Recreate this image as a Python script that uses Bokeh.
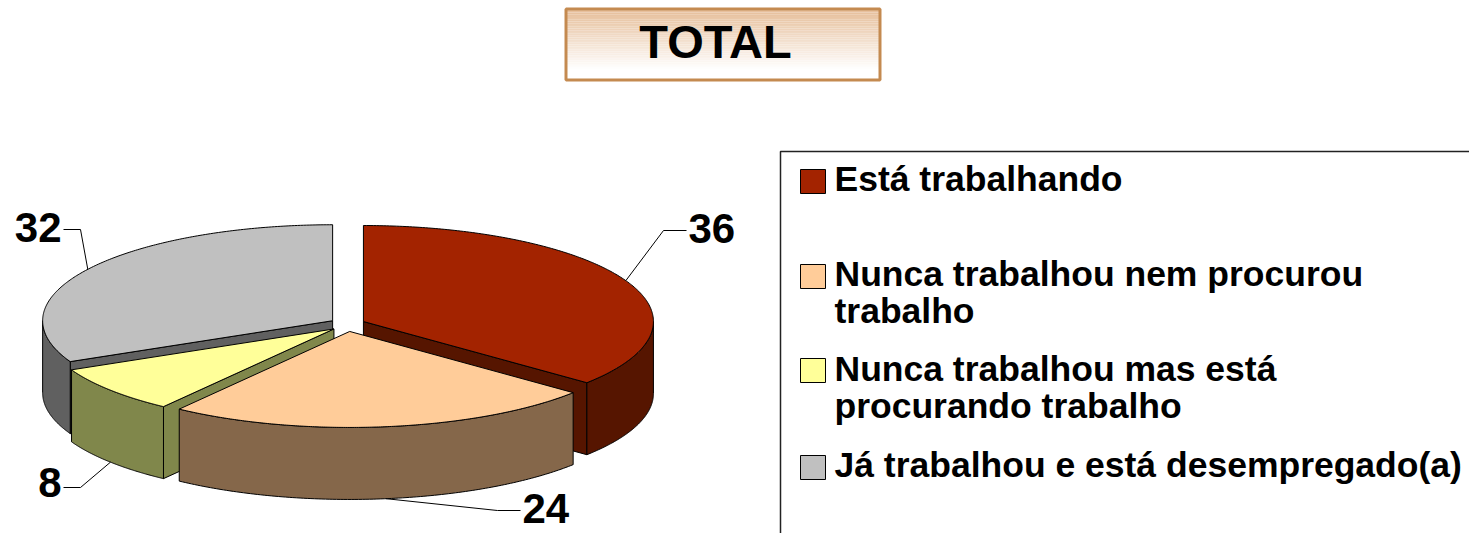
import numpy as np
from bokeh.plotting import figure
from bokeh.models import Range1d
from bokeh.core.properties import value
from bokeh.embed import file_html
from bokeh.resources import INLINE

# ---------------- data ----------------
title_text = "TOTAL"
categories = [
    "Está trabalhando",
    "Nunca trabalhou nem procurou trabalho",
    "Nunca trabalhou mas está procurando trabalho",
    "Já trabalhou e está desempregado(a)",
]
legend_lines = [
    ["Está trabalhando"],
    ["Nunca trabalhou nem procurou", "trabalho"],
    ["Nunca trabalhou mas está", "procurando trabalho"],
    ["Já trabalhou e está desempregado(a)"],
]
values = [36, 24, 8, 32]
top_colors = ["#A32300", "#FFCC99", "#FFFF99", "#C0C0C0"]
side_colors = ["#561500", "#85674A", "#80874B", "#606060"]

# ---------------- layout ----------------
W, H = 1469, 533
FONT = value("Liberation Sans")
BASE_SHIFT = 0.39  # compensation for the renderer's baseline placement (fraction of font size)

p = figure(width=W, height=H, x_range=Range1d(0, W), y_range=Range1d(H, 0),
           output_backend="svg", toolbar_location=None, min_border=0,
           x_axis_location=None, y_axis_location=None)
p.grid.visible = False
p.outline_line_color = None
p.background_fill_color = "white"
p.border_fill_color = "white"


def put_text(x, baseline, txt, size, align="left"):
    p.text(x=[x], y=[baseline - BASE_SHIFT * size], text=[txt], text_font=FONT,
           text_font_style="bold", text_font_size="%gpx" % size, text_align=align,
           text_baseline="alphabetic", text_color="black")


# ---------------- title box with gradient ----------------
bx0, bx1, by0, by1 = 565.5, 879.5, 8.5, 79.5
n = 40
edges = np.linspace(by0, by1, n + 1)
c_top = np.array([0xE6, 0xBE, 0x99])
c_bot = np.array([0xFF, 0xFF, 0xFF])
cols = []
for i in range(n):
    t = min(1.0, (i + 0.5) / n / 0.85)
    c = (c_top * (1 - t) + c_bot * t).astype(int)
    cols.append("#%02x%02x%02x" % tuple(c))
p.quad(left=[bx0] * n, right=[bx1] * n, top=list(edges[:-1]), bottom=list(edges[1:]),
       fill_color=cols, line_color=None)
p.quad(left=[bx0], right=[bx1], top=[by0], bottom=[by1], fill_color=None,
       line_color="#C48A50", line_width=3)
put_text(715, 59, title_text, 47, "center")

# ---------------- 3D exploded pie ----------------
CX, CY = 347, 324
RX, RY = 290, 96
DEPTH = 72
EX, EY = 17.6, 7.0

total = float(sum(values))
cum = np.concatenate([[0], np.cumsum(values)])
starts = 2 * np.pi * cum[:-1] / total
ends = 2 * np.pi * cum[1:] / total
mids = (starts + ends) / 2


def rim(ox, oy, th, dz=0.0):
    return ox + RX * np.sin(th), oy - RY * np.cos(th) + dz


origins = [(CX + EX * np.sin(m), CY - EY * np.cos(m)) for m in mids]
order = sorted(range(len(values)), key=lambda i: -np.cos(mids[i]))

pxs, pys, pcols = [], [], []
for i in order:
    a0, a1 = starts[i], ends[i]
    ox, oy = origins[i]
    # radial faces
    for a, vis in ((a0, np.sin(a0) < -1e-6), (a1, np.sin(a1) > 1e-6)):
        if vis:
            rx_, ry_ = rim(ox, oy, a)
            pxs.append([ox, rx_, rx_, ox])
            pys.append([oy, ry_, ry_ + DEPTH, oy + DEPTH])
            pcols.append(side_colors[i])
    # outer wall (front part)
    lo, hi = max(a0, np.pi / 2), min(a1, 3 * np.pi / 2)
    if hi > lo:
        th = np.linspace(lo, hi, 120)
        tx, ty = rim(ox, oy, th)
        bx, byy = rim(ox, oy, th[::-1], DEPTH)
        pxs.append(list(tx) + list(bx))
        pys.append(list(ty) + list(byy))
        pcols.append(side_colors[i])
    # top face
    th = np.linspace(a0, a1, 200)
    tx, ty = rim(ox, oy, th)
    pxs.append([ox] + list(tx))
    pys.append([oy] + list(ty))
    pcols.append(top_colors[i])

p.patches(xs=pxs, ys=pys, fill_color=pcols, line_color="black", line_width=1)

# ---------------- data labels with leader lines ----------------
# elbow positions and text side for each slice (layout)
label_layout = [(663, 230, "right"), (497, 510, "right"), (80, 487, "left"), (80, 229, "left")]
label_baseline = [244, 524, 498, 243]
for i, v in enumerate(values):
    ox, oy = origins[i]
    dz = DEPTH if np.cos(mids[i]) < 0 else 0.0
    axp, ayp = rim(ox, oy, mids[i], dz)
    ex_, ey_, side = label_layout[i]
    hx = ex_ + 23 if side == "right" else ex_ - 17
    p.line(x=[float(axp), ex_, hx], y=[float(ayp), ey_, ey_], line_color="black", line_width=1)
    tx = hx + 2 if side == "right" else hx - 2
    put_text(tx, label_baseline[i], str(v), 42, "left" if side == "right" else "right")

# ---------------- legend ----------------
p.line(x=[780, 780, W], y=[H, 151, 151], line_color="#222222", line_width=1.5)
sq_top = [169, 264, 358, 455]
line_base = [[192], [287, 324], [382, 419], [478]]
p.quad(left=[800] * 4, right=[825] * 4, top=sq_top, bottom=[t + 24 for t in sq_top],
       fill_color=top_colors, line_color="black", line_width=1)
for i, lines in enumerate(legend_lines):
    for j, txt in enumerate(lines):
        put_text(834, line_base[i][j], txt, 35.5)

open("out.html", "w").write(file_html(p, INLINE))
